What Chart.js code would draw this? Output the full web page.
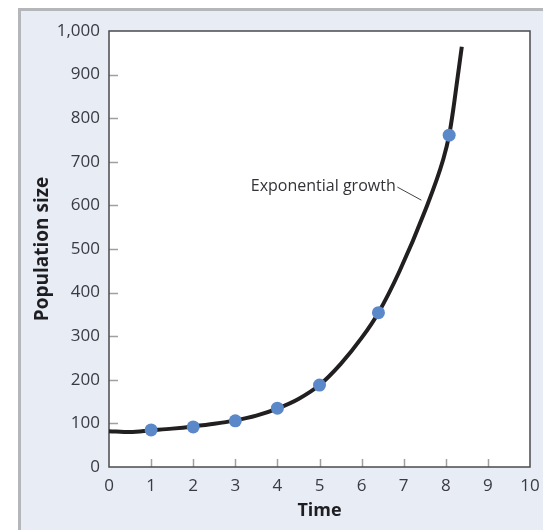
<!DOCTYPE html>
<html>
<head>
<meta charset="utf-8">
<script src="https://cdn.jsdelivr.net/npm/chart.js@4/dist/chart.umd.min.js"></script>
<style>
  html, body { margin: 0; padding: 0; background: #ffffff; }
  canvas { display: block; }
</style>
</head>
<body>
<canvas id="growth" width="543" height="530"></canvas>
<script>
// Census counts taken at successive times
const sampleTimes = [1, 2, 3, 4, 5, 6.4, 8.08];
const sampleSizes = [85, 92, 106, 135, 188, 354, 761];

// Smooth exponential growth curve through the samples
const curveTimes = [0, 0.5, 1, 1.5, 2, 2.5, 3, 3.5, 4, 4.5, 5, 5.5, 6, 6.4, 6.9, 7.5, 7.94, 8.08, 8.18, 8.27, 8.38];
const curveSizes = [82, 80, 84, 88, 93, 99, 107, 118, 134, 156, 188, 236, 296, 354, 449, 586, 706, 761, 822, 886, 964];

// Axis ranges
const timeTicks = [0, 1, 2, 3, 4, 5, 6, 7, 8, 9, 10];
const sizeTicks = [0, 100, 200, 300, 400, 500, 600, 700, 800, 900, 1000];

// Callout text and where its leader line meets the curve
const calloutText = 'Exponential growth';
const calloutLabelAt = { x: 6.81, y: 634 };
const calloutLineFrom = { x: 6.85, y: 642 };
const calloutLineTo = { x: 7.42, y: 612 };

const FONT = '"Open Sans", "Noto Sans", sans-serif';

const panelPlugin = {
  id: 'panel',
  beforeDraw(chart) {
    const { ctx, width, height, chartArea: a } = chart;
    ctx.save();
    ctx.fillStyle = '#ffffff';
    ctx.fillRect(0, 0, width, height);
    ctx.fillStyle = '#b4b6b9';
    ctx.fillRect(18, 8, width - 18, height - 8);
    ctx.fillStyle = '#e7ecf5';
    ctx.fillRect(21, 11, width - 21, height - 11);
    ctx.fillStyle = '#ffffff';
    ctx.fillRect(a.left, a.top, a.right - a.left, a.bottom - a.top);
    ctx.restore();
  },
  beforeDatasetsDraw(chart) {
    const { ctx, chartArea: a, scales } = chart;
    ctx.save();
    // inward tick marks
    ctx.strokeStyle = '#a0a0a0';
    ctx.lineWidth = 1.5;
    ctx.beginPath();
    timeTicks.slice(1, -1).forEach(t => {
      const px = Math.round(scales.x.getPixelForValue(t)) + 0.5;
      ctx.moveTo(px, a.bottom);
      ctx.lineTo(px, a.bottom - 8);
    });
    sizeTicks.slice(1, -1).forEach(v => {
      const py = Math.round(scales.y.getPixelForValue(v)) + 0.5;
      ctx.moveTo(a.left, py);
      ctx.lineTo(a.left + 9, py);
    });
    ctx.stroke();
    // frame
    ctx.strokeStyle = '#4a4a4f';
    ctx.lineWidth = 1.5;
    ctx.strokeRect(a.left, a.top, a.right - a.left, a.bottom - a.top);
    ctx.restore();
  },
  afterDatasetsDraw(chart) {
    const { ctx, scales } = chart;
    const X = v => scales.x.getPixelForValue(v);
    const Y = v => scales.y.getPixelForValue(v);
    ctx.save();
    ctx.font = '16px ' + FONT;
    ctx.fillStyle = '#333338';
    ctx.textAlign = 'right';
    ctx.textBaseline = 'alphabetic';
    ctx.fillText(calloutText, X(calloutLabelAt.x), Y(calloutLabelAt.y));
    ctx.strokeStyle = '#444448';
    ctx.lineWidth = 1;
    ctx.beginPath();
    ctx.moveTo(X(calloutLineFrom.x), Y(calloutLineFrom.y));
    ctx.lineTo(X(calloutLineTo.x), Y(calloutLineTo.y));
    ctx.stroke();
    ctx.restore();
  }
};

new Chart(document.getElementById('growth'), {
  type: 'scatter',
  data: {
    datasets: [
      {
        label: 'Samples',
        data: sampleTimes.map((t, i) => ({ x: t, y: sampleSizes[i] })),
        backgroundColor: '#5b88c8',
        borderColor: '#5b88c8',
        borderWidth: 0,
        pointRadius: 6.5,
        pointHoverRadius: 6.5
      },
      {
        label: 'Growth curve',
        data: curveTimes.map((t, i) => ({ x: t, y: curveSizes[i] })),
        showLine: true,
        borderColor: '#221f20',
        borderWidth: 4,
        pointRadius: 0,
        pointHoverRadius: 0,
        cubicInterpolationMode: 'monotone',
        borderCapStyle: 'butt',
        clip: false
      }
    ]
  },
  options: {
    responsive: false,
    animation: false,
    events: [],
    layout: { padding: { top: 31, right: 13, left: 0, bottom: 0 } },
    plugins: {
      legend: { display: false },
      tooltip: { enabled: false }
    },
    scales: {
      x: {
        type: 'linear',
        min: 0,
        max: 10,
        afterFit(scale) { scale.height = 63; scale.paddingLeft = 0; scale.paddingRight = 0; },
        afterBuildTicks(scale) { scale.ticks = timeTicks.map(v => ({ value: v })); },
        grid: { display: false, drawTicks: false },
        border: { display: false },
        ticks: {
          padding: 9,
          color: '#3a3a42',
          font: { family: FONT, size: 17 },
          maxRotation: 0,
          autoSkip: false
        },
        title: {
          display: true,
          text: 'Time',
          color: '#1e1e22',
          font: { family: FONT, size: 18, weight: 'bold' },
          padding: { top: 0, bottom: 8 }
        }
      },
      y: {
        type: 'linear',
        min: 0,
        max: 1000,
        afterFit(scale) { scale.width = 109; scale.paddingTop = 0; scale.paddingBottom = 0; },
        afterBuildTicks(scale) { scale.ticks = sizeTicks.map(v => ({ value: v })); },
        grid: { display: false, drawTicks: false },
        border: { display: false },
        ticks: {
          padding: 9,
          color: '#3a3a42',
          font: { family: FONT, size: 17 },
          autoSkip: false,
          callback: v => v.toLocaleString('en-US')
        },
        title: {
          display: true,
          text: 'Population size',
          color: '#1e1e22',
          font: { family: FONT, size: 19, weight: 'bold' },
          padding: { top: 31, bottom: 0 }
        }
      }
    }
  },
  plugins: [panelPlugin]
});
</script>
</body>
</html>
